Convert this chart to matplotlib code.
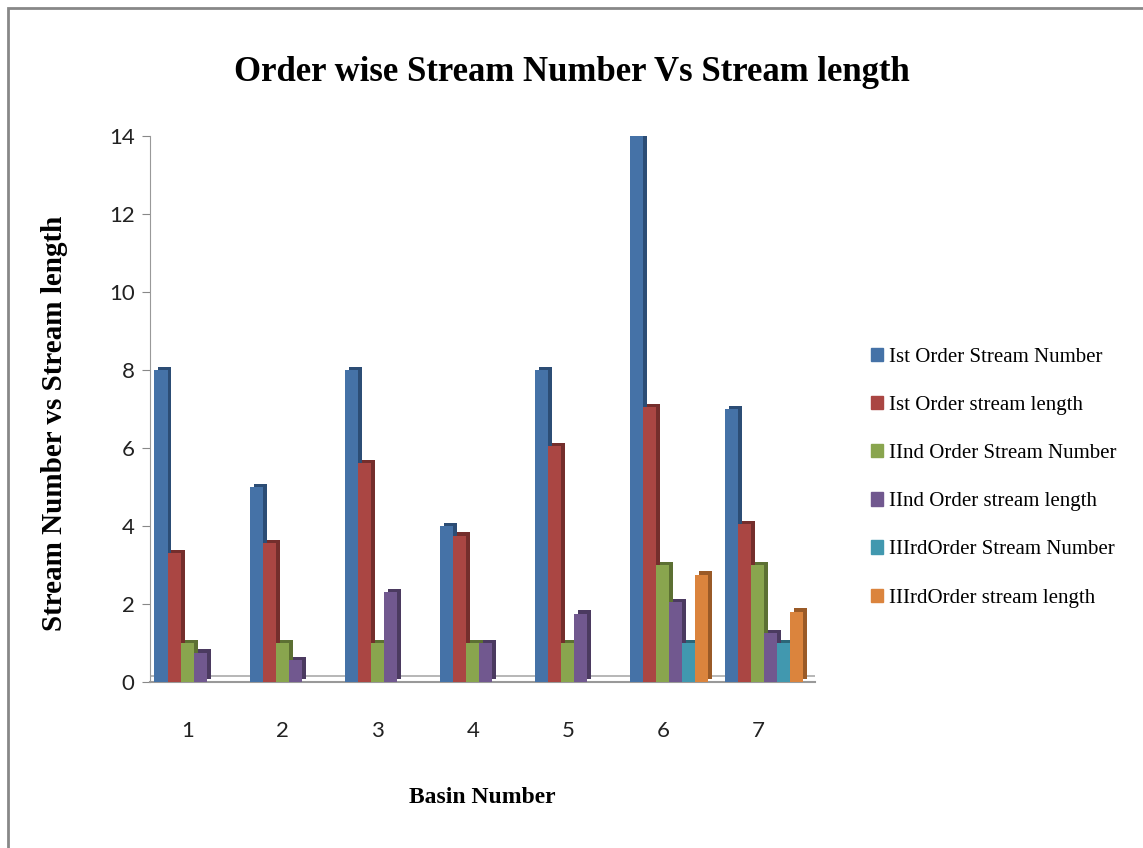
import numpy as np
import matplotlib
matplotlib.use("Agg")
from matplotlib import pyplot as plt
from matplotlib.patches import Rectangle, Patch

basins = ["1", "2", "3", "4", "5", "6", "7"]
first_num = [8, 5, 8, 4, 8, 14, 7]
first_len = [3.3, 3.55, 5.6, 3.75, 6.05, 7.05, 4.05]
second_num = [1, 1, 1, 1, 1, 3, 3]
second_len = [0.75, 0.55, 2.3, 1.0, 1.75, 2.05, 1.25]
third_num = [0, 0, 0, 0, 0, 1, 1]
third_len = [0, 0, 0, 0, 0, 2.75, 1.8]

series_names = ["Ist Order Stream Number", "Ist Order stream length",
                "IInd Order Stream Number", "IInd Order stream length",
                "IIIrdOrder Stream Number", "IIIrdOrder stream length"]
series = [first_num, first_len, second_num, second_len, third_num, third_len]
colors = ["#4572A7", "#AA4643", "#89A54E", "#71588F", "#4198AF", "#DB843D"]
sides = ["#2c4d75", "#742e2c", "#5c7033", "#4b3a60", "#2b6677", "#9a5a27"]

fig = plt.figure(figsize=(11.43, 8.48), dpi=100)
ax = fig.add_axes([0.131, 0.196, 0.582, 0.644])

x = np.arange(len(basins))
w = 0.137
dx = 0.042
dy = 0.08
for j, vals in enumerate(series):
    left = x - 0.45 + j * w
    # darker offset bar gives the 3D side/top
    ax.bar(left + dx, vals, width=w, bottom=dy, align="edge",
           color=sides[j], zorder=2, linewidth=0)
    ax.bar(left, vals, width=w, align="edge", color=colors[j],
           zorder=3, linewidth=0)

ax.set_xlim(-0.5, 6.5)
ax.set_ylim(0, 14)
ax.set_yticks(range(0, 15, 2))
ax.set_xticks(x - 0.1)
ax.set_xticklabels(basins)
ax.tick_params(axis="x", length=0, pad=28, labelsize=16)
ax.tick_params(axis="y", length=6, color="#888888", labelsize=16, pad=5)
for lab in ax.get_xticklabels() + ax.get_yticklabels():
    lab.set_family("Lato")
    lab.set_color("#222222")

for s in ["top", "right"]:
    ax.spines[s].set_visible(False)
ax.spines["left"].set_color("#999999")
ax.spines["bottom"].set_color("#999999")
ax.spines["bottom"].set_linewidth(1.5)
ax.axhline(dy * 1.8, color="#aaaaaa", lw=1.2, zorder=1)

ax.set_xlabel("Basin Number", family="Liberation Serif", fontweight="bold",
              fontsize=17, labelpad=33)
ax.set_ylabel("Stream Number vs Stream length", family="Liberation Serif",
              fontweight="bold", fontsize=21)
ax.yaxis.set_label_coords(-0.123, 0.473)

fig.text(0.5, 0.915, "Order wise Stream Number Vs Stream length",
         ha="center", va="center", family="Liberation Serif",
         fontweight="bold", fontsize=25)

handles = [Patch(color=c) for c in colors]
fig.legend(handles, series_names, loc="upper left",
           bbox_to_anchor=(0.746, 0.612), frameon=False,
           prop={"family": "Liberation Serif", "size": 15},
           handlelength=0.55, handleheight=0.6, handletextpad=0.3,
           labelspacing=1.4)

fig.patches.append(Rectangle((0.007, -0.1), 0.995, 1.09,
                             transform=fig.transFigure, fill=False,
                             edgecolor="#888888", lw=2))

fig.savefig("out.png", dpi=100)
